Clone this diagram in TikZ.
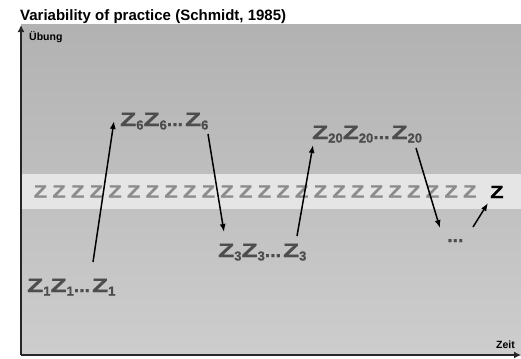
\documentclass[tikz,border=0pt]{standalone}
\usepackage{fontspec}
\setmainfont{Liberation Sans}
\newfontfamily\zfont[FakeBold=0.8]{Liberation Sans Bold}
\usetikzlibrary{arrows.meta,calc}
\definecolor{bgtop}{HTML}{B2B2B2}
\definecolor{bgbot}{HTML}{CDCDCD}
\definecolor{bandc}{HTML}{E5E5E5}
\definecolor{zrow}{HTML}{8C8C8C}
\definecolor{zgrp}{HTML}{4D4D4D}
\newcommand{\WideZ}{\scalebox{1.35}[1]{Z}}
\newcommand{\RowZ}{\scalebox{1.25}[1]{Z}}
\newcommand{\Zsub}[1]{\WideZ\raisebox{-3.5bp}{\fontsize{13bp}{13bp}\selectfont #1}}
\begin{document}
\begin{tikzpicture}[x=1bp,y=-1bp,
  txt/.style={inner sep=0pt, anchor=base west},
  grp/.style={txt, text=zgrp, font=\fontsize{19.5bp}{19.5bp}\zfont},
  rowz/.style={txt, text=zrow, font=\fontsize{17.5bp}{17.5bp}\zfont},
  small/.style={txt, font=\fontsize{10.5bp}{10.5bp}\selectfont\bfseries},
  arr/.style={line width=1.5bp, -{Latex[length=8bp,width=6bp]}},
  axisline/.style={line width=1.8bp, draw=black!85, -{Latex[length=7bp,width=7bp]}}]
\useasboundingbox (0,0) rectangle (521,358);
% background
\shade[top color=bgtop, bottom color=bgbot] (21,24) rectangle (521,355);
\fill[bandc] (21,174) rectangle (521,209);
% axes
\coordinate (o) at (21,355);
\coordinate (ytip) at (21,25);
\coordinate (xtip) at (521,355);
\draw[axisline] (o) -- (ytip);
\draw[axisline] (o) -- (xtip);
% title and axis labels
\node[txt, font=\fontsize{15bp}{15bp}\selectfont\bfseries] (title) at (20,20.5) {Variability of practice (Schmidt, 1985)};
\node[small] (ub) at (29,40) {Übung};
\node[small] (zeit) at (496,348) {Zeit};
% row of Z
\foreach \i in {0,...,23} \node[rowz] (r\i) at ({33.5+18.67*\i},197.5) {\RowZ};
\node[rowz, text=black] (zb) at (490,198) {\RowZ};
% groups
\node[grp] (g1) at (27,292) {\Zsub{1}\Zsub{1}...\kern2bp\Zsub{1}};
\node[grp] (g6) at (120,126) {\Zsub{6}\Zsub{6}...\kern2bp\Zsub{6}};
\node[grp] (g3) at (218,257) {\Zsub{3}\Zsub{3}...\kern2bp\Zsub{3}};
\node[grp] (g20) at (312,139) {\Zsub{20}\Zsub{20}...\kern2bp\Zsub{20}};
\node[grp] (dots) at (447,242) {...};
% arrows
\draw[arr] ($(g1.base west)+(66,-30)$) -- ($(g6.base west)+(-6,-5)$);
\draw[arr] ($(g6.base west)+(88,8)$) -- ($(g3.base west)+(6,-25)$);
\draw[arr] ($(g3.base west)+(79,-21)$) -- ($(g20.base west)+(1,6)$);
\draw[arr] ($(g20.base west)+(104,9)$) -- ($(dots.base west)+(-7,-14)$);
\draw[arr] ($(dots.base west)+(26,-15)$) -- ($(zb.base west)+(-2,5)$);
\end{tikzpicture}
\end{document}
